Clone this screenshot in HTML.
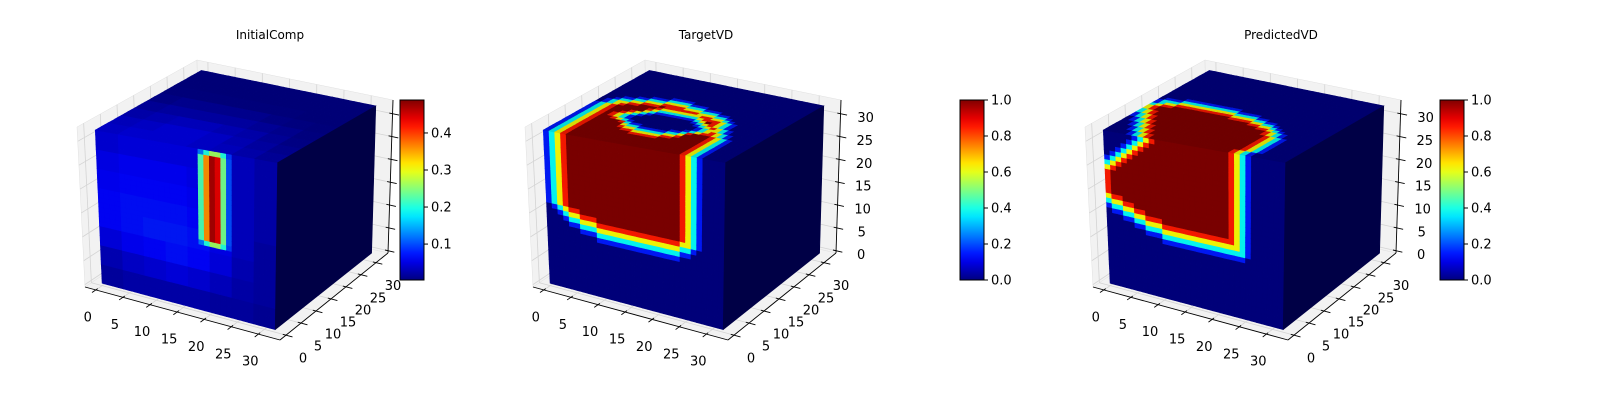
<!DOCTYPE html>
<html>
<head>
<meta charset="utf-8">
<style>
  html,body{margin:0;padding:0;background:#fff;}
  svg{display:block;font-family:"DejaVu Sans","Liberation Sans",sans-serif;}
</style>
</head>
<body>
<svg id="chart" width="1600" height="400" viewBox="0 0 1600 400" xmlns="http://www.w3.org/2000/svg"></svg>
<script>
// ---------- data ----------
const panelTitles = ["InitialComp", "TargetVD", "PredictedVD"];
const axisTicks = [0, 5, 10, 15, 20, 25, 30];
const cbTicksP1 = [0.1, 0.2, 0.3, 0.4];
const cbLabelsP1 = ["0.1", "0.2", "0.3", "0.4"];
const cbTicksP23 = [0.0, 0.2, 0.4, 0.6, 0.8, 1.0];
const cbLabelsP23 = ["0.0", "0.2", "0.4", "0.6", "0.8", "1.0"];
const cbRangeP1 = [0.003, 0.489];
const cbRangeP23 = [0.0, 1.0];
const rimLevels = [0.15, 0.38, 0.62, 0.85, 1.0];

// InitialComp: coarse glow (8x8 blocks of 4x4 voxels), front rows top->bottom
const p1FrontGlow = [
  [.045,.05,.05,.05,.05,.045,.035,.025],
  [.055,.06,.06,.06,.055,.05,.035,.025],
  [.06,.065,.065,.065,.06,.05,.035,.025],
  [.065,.07,.07,.07,.065,.055,.035,.025],
  [.065,.07,.075,.075,.07,.055,.035,.02],
  [.05,.06,.065,.07,.065,.05,.03,.02],
  [.03,.04,.045,.05,.045,.035,.025,.02],
  [.02,.025,.025,.025,.025,.02,.02,.015]
];
// top face glow rows front->back
const p1TopGlow = [
  [.05,.055,.055,.055,.05,.045,.035,.025],
  [.045,.05,.055,.055,.05,.04,.03,.02],
  [.035,.04,.045,.045,.04,.035,.025,.015],
  [.025,.03,.03,.03,.03,.025,.02,.012],
  [.015,.02,.02,.02,.02,.015,.012,.01],
  [.01,.01,.01,.01,.01,.01,.008,.008],
  [.008,.008,.008,.008,.008,.008,.008,.008],
  [.008,.008,.008,.008,.008,.008,.008,.008]
];
const p1BarX = [18, 19, 20, 21, 22, 23];
const p1BarProfile = [0.22, 0.36, 0.47, 0.44, 0.24, 0.10];
const p1BarEdgeProfile = [0.12, 0.20, 0.26, 0.26, 0.20, 0.09];
const p1BarZ = [13, 31];

// TargetVD: front face rows (z=0..31) extents of nonzero region
const p2FrontRows = [null,null,null,null,null,null,null,null,null,null,null,
  [9,23],[6,25],[4,26],[3,27],[2,27],[1,27],
  [0,27],[0,27],[0,27],[0,27],[0,27],[0,27],[0,27],[0,27],[0,27],[0,27],[0,27],[0,27],[0,27],[0,27],[0,27]];
// TargetVD: top face rows (y=0 front .. 31 back)
const p2TopRows = [[0,27],[0,27],[0,27],[0,27],[0,27],[0,27],[0,27],[0,27],[0,27],[0,27],
  [0,26],[0,26],[0,25],[0,25],[0,24],[0,24],[1,24],[1,23],[2,22],[3,21],[5,19],[7,16],[10,13],
  null,null,null,null,null,null,null,null,null];
const p2TopHole = [null,null,null,null,null,null,null,null,null,
  [12,16],[10,18],[9,19],[9,19],[10,18],[11,17],
  null,null,null,null,null,null,null,null,null,null,null,null,null,null,null,null,null];

// PredictedVD
const p3FrontRows = [null,null,null,null,null,null,null,null,null,null,null,
  [10,24],[7,25],[5,25],[3,25],[1,25],[0,25],[-1,25],[-2,25],
  [-3,25],[-3,25],[-3,25],[-3,25],[-3,25],[-3,25],
  [-1,25],[0,25],[1,25],[2,25],[3,25],[4,25],[5,25]];
const p3TopRows = [[4,25],[4,25],[3,26],[3,26],[2,26],[2,26],[1,26],[1,26],[0,26],[0,26],
  [-1,25],[-1,25],[-2,24],[-2,23],[-1,22],[0,21],[0,19],[1,17],[4,13],
  null,null,null,null,null,null,null,null,null,null,null,null,null];

// ---------- layout ----------
const NS = "http://www.w3.org/2000/svg";
const svg = document.getElementById("chart");
const BOX = {A:[85,287],B:[280,340],C:[388,253],G:[200,210],F:[77,127],H:[283,163],D:[393,100],E:[197,60]};
const XR = [-2, 34], YR = [-2, 34], ZR = [-0.5, 33];
const panelDX = [0, 448, 1008];
const cbX = [400, 960, 1440];
const cbTop = 100, cbBot = 280, cbW = 24;
const titleX = [270, 706, 1281];

function mk(tag, parent) { const e = document.createElementNS(NS, tag); parent.appendChild(e); return e; }
function bil(p, q, r, s, u, v) {
  return [(1-u)*(1-v)*p[0] + u*(1-v)*q[0] + u*v*r[0] + (1-u)*v*s[0],
          (1-u)*(1-v)*p[1] + u*(1-v)*q[1] + u*v*r[1] + (1-u)*v*s[1]];
}
function proj(dx, x, y, z) {
  const u = (x - XR[0]) / (XR[1] - XR[0]);
  const v = (y - YR[0]) / (YR[1] - YR[0]);
  const w = (z - ZR[0]) / (ZR[1] - ZR[0]);
  const b = bil(BOX.A, BOX.B, BOX.C, BOX.G, u, v);
  const t = bil(BOX.F, BOX.H, BOX.D, BOX.E, u, v);
  return [dx + b[0] + (t[0]-b[0])*w, b[1] + (t[1]-b[1])*w];
}
function clamp(a) { return Math.max(0, Math.min(1, a)); }
function jet(v) {
  return [clamp(1.5 - Math.abs(4*v - 3)), clamp(1.5 - Math.abs(4*v - 2)), clamp(1.5 - Math.abs(4*v - 1))];
}
function rgb(c, f) {
  return "rgb(" + Math.round(c[0]*255*f) + "," + Math.round(c[1]*255*f) + "," + Math.round(c[2]*255*f) + ")";
}
function contains(rows, hole, i, k) {
  const r = rows[k];
  if (!r) return false;
  if (i < r[0] || i > r[1]) return false;
  const h = hole && hole[k];
  if (h && i >= h[0] && i <= h[1]) return false;
  return true;
}
function depth(rows, hole, i, k, openLow, openHigh) {
  if (!contains(rows, hole, i, k)) return -1;
  const r = rows[k];
  let dh = Math.min(i - r[0], r[1] - i);
  const h = hole && hole[k];
  if (h) { if (i < h[0]) dh = Math.min(dh, h[0]-1-i); else dh = Math.min(dh, i-h[1]-1); }
  let down = 0;
  for (let kk = k-1; ; kk--) {
    if (kk < 0) { if (openLow) down = 99; break; }
    if (!contains(rows, hole, i, kk)) break;
    down++;
  }
  let up = 0;
  for (let kk = k+1; ; kk++) {
    if (kk > 31) { if (openHigh) up = 99; break; }
    if (!contains(rows, hole, i, kk)) break;
    up++;
  }
  return Math.min(dh, down, up);
}
function rimValue(rows, hole, i, k, openLow, openHigh) {
  const d = depth(rows, hole, i, k, openLow, openHigh);
  if (d < 0) return 0;
  return rimLevels[Math.min(d, 4)];
}
function p1Front(i, k) {
  const bi = p1BarX.indexOf(i);
  if (bi >= 0 && k >= p1BarZ[0] && k <= p1BarZ[1]) {
    if (k === p1BarZ[0] || k === p1BarZ[1]) return p1BarEdgeProfile[bi];
    return p1BarProfile[bi];
  }
  return p1FrontGlow[7 - Math.floor(k/4)][Math.floor(i/4)];
}
function p1Top(i, j) { return p1TopGlow[Math.floor(j/4)][Math.floor(i/4)]; }

const faceFns = [
  { front: p1Front, top: p1Top },
  { front: (i,k) => rimValue(p2FrontRows, null, i, k, false, true),
    top: (i,j) => rimValue(p2TopRows, p2TopHole, i, j, true, false) },
  { front: (i,k) => rimValue(p3FrontRows, null, i, k, false, true),
    top: (i,j) => rimValue(p3TopRows, null, i, j, true, false) }
];
const ranges = [cbRangeP1, cbRangeP23, cbRangeP23];
const cbTickSets = [cbTicksP1, cbTicksP23, cbTicksP23];
const cbLabelSets = [cbLabelsP1, cbLabelsP23, cbLabelsP23];

function pts(arr) { return arr.map(p => p[0].toFixed(1) + "," + p[1].toFixed(1)).join(" "); }

const defs = mk("defs", svg);
const grad = mk("linearGradient", defs);
grad.setAttribute("id", "jetgrad");
grad.setAttribute("x1", "0"); grad.setAttribute("y1", "1"); grad.setAttribute("x2", "0"); grad.setAttribute("y2", "0");
for (let s = 0; s <= 20; s++) {
  const st = mk("stop", grad);
  st.setAttribute("offset", (s/20).toFixed(2));
  st.setAttribute("stop-color", rgb(jet(s/20), 1));
}

for (let p = 0; p < 3; p++) {
  const dx = panelDX[p];
  const g = mk("g", svg);
  
  

  const tt = mk("text", g);
  
  
  tt.setAttribute("x", titleX[p]); tt.setAttribute("y", 39);
  tt.setAttribute("text-anchor", "middle"); tt.setAttribute("font-size", "12");
  tt.textContent = panelTitles[p];

  const panes = [
    [[XR[0],YR[0],ZR[0]],[XR[0],YR[1],ZR[0]],[XR[0],YR[1],ZR[1]],[XR[0],YR[0],ZR[1]]],
    [[XR[0],YR[1],ZR[0]],[XR[1],YR[1],ZR[0]],[XR[1],YR[1],ZR[1]],[XR[0],YR[1],ZR[1]]],
    [[XR[0],YR[0],ZR[0]],[XR[1],YR[0],ZR[0]],[XR[1],YR[1],ZR[0]],[XR[0],YR[1],ZR[0]]]
  ];
  const paneNames = ["left-pane", "back-pane", "floor-pane"];
  for (let q = 0; q < 3; q++) {
    const pg = mk("polygon", g);
    
    
    pg.setAttribute("points", pts(panes[q].map(c => proj(dx, c[0], c[1], c[2]))));
    pg.setAttribute("fill", "#f2f2f2");
    pg.setAttribute("stroke", "#e0e0e0");
    pg.setAttribute("stroke-width", "0.5");
  }
  function gl(a, b, name) {
    const l = mk("line", g);
    
    
    const P = proj(dx, a[0], a[1], a[2]), Q = proj(dx, b[0], b[1], b[2]);
    l.setAttribute("x1", P[0]); l.setAttribute("y1", P[1]);
    l.setAttribute("x2", Q[0]); l.setAttribute("y2", Q[1]);
    l.setAttribute("stroke", "#d4d4d4"); l.setAttribute("stroke-width", "0.8");
  }
  axisTicks.forEach(t => {
    gl([XR[0], t, ZR[0]], [XR[0], t, ZR[1]], "grid-line");
    gl([XR[0], YR[0], t], [XR[0], YR[1], t], "grid-line");
    gl([t, YR[1], ZR[0]], [t, YR[1], ZR[1]], "grid-line");
    gl([XR[0], YR[1], t], [XR[1], YR[1], t], "grid-line");
    gl([t, YR[0], ZR[0]], [t, YR[1], ZR[0]], "grid-line");
    gl([XR[0], t, ZR[0]], [XR[1], t, ZR[0]], "grid-line");
  });
  function al(a, b, name) {
    const l = mk("line", g);
    
    
    const P = proj(dx, a[0], a[1], a[2]), Q = proj(dx, b[0], b[1], b[2]);
    l.setAttribute("x1", P[0]); l.setAttribute("y1", P[1]);
    l.setAttribute("x2", Q[0]); l.setAttribute("y2", Q[1]);
    l.setAttribute("stroke", "#000"); l.setAttribute("stroke-width", "0.9");
  }
  function lab(pt, ox, oy, s, name) {
    const t = mk("text", g);
    
    
    t.setAttribute("x", (pt[0] + ox).toFixed(1)); t.setAttribute("y", (pt[1] + oy + 4.5).toFixed(1));
    t.setAttribute("text-anchor", "middle"); t.setAttribute("font-size", "13");
    t.textContent = s;
  }
  al([XR[0], YR[0], ZR[0]], [XR[1], YR[0], ZR[0]], "x-axis-line");
  al([XR[1], YR[0], ZR[0]], [XR[1], YR[1], ZR[0]], "y-axis-line");
  al([XR[1], YR[1], ZR[0]], [XR[1], YR[1], ZR[1]], "z-axis-line");
  axisTicks.forEach(t => {
    al([t, YR[0]+0.6, ZR[0]], [t, YR[0]-1.2, ZR[0]], "x-tick");
    lab(proj(dx, t, YR[0], ZR[0]), -8, 27, String(t), "x-tick-label");
    al([XR[1]-0.6, t, ZR[0]], [XR[1]+1.2, t, ZR[0]], "y-tick");
    lab(proj(dx, XR[1], t, ZR[0]), 17, 23, String(t), "y-tick-label");
    al([XR[1]-0.6, YR[1], t], [XR[1]+1.2, YR[1], t], "z-tick");
    if (p > 0) lab(proj(dx, XR[1], YR[1], t), 25, 4, String(t), "z-tick-label");
  });

  const rng = ranges[p];
  const norm = v => clamp((v - rng[0]) / (rng[1] - rng[0]));
  const cube = mk("g", g);
  
  
  for (let i = 0; i < 32; i++) {
    for (let k = 0; k < 32; k++) {
      const c = rgb(jet(norm(faceFns[p].front(i, k))), 0.95);
      const pg = mk("polygon", cube);
      
      
      pg.setAttribute("points", pts([proj(dx,i,0,k), proj(dx,i+1,0,k), proj(dx,i+1,0,k+1), proj(dx,i,0,k+1)]));
      pg.setAttribute("fill", c); pg.setAttribute("stroke", c); pg.setAttribute("stroke-width", "0.6");
    }
  }
  for (let i = 0; i < 32; i++) {
    for (let j = 0; j < 32; j++) {
      const c = rgb(jet(norm(faceFns[p].top(i, j))), 0.86);
      const pg = mk("polygon", cube);
      
      
      pg.setAttribute("points", pts([proj(dx,i,j,32), proj(dx,i+1,j,32), proj(dx,i+1,j+1,32), proj(dx,i,j+1,32)]));
      pg.setAttribute("fill", c); pg.setAttribute("stroke", c); pg.setAttribute("stroke-width", "0.6");
    }
  }
  {
    const c = rgb(jet(0), 0.55);
    const pg = mk("polygon", cube);
    
    
    pg.setAttribute("points", pts([proj(dx,32,0,0), proj(dx,32,32,0), proj(dx,32,32,32), proj(dx,32,0,32)]));
    pg.setAttribute("fill", c); pg.setAttribute("stroke", c); pg.setAttribute("stroke-width", "0.6");
  }

  const cx = cbX[p];
  const cb = mk("rect", g);
  
  
  cb.setAttribute("x", cx); cb.setAttribute("y", cbTop);
  cb.setAttribute("width", cbW); cb.setAttribute("height", cbBot - cbTop);
  cb.setAttribute("fill", "url(#jetgrad)"); cb.setAttribute("stroke", "#000"); cb.setAttribute("stroke-width", "1");
  cbTickSets[p].forEach((v, idx) => {
    const y = cbBot - (v - rng[0]) / (rng[1] - rng[0]) * (cbBot - cbTop);
    const tk = mk("line", g);
    
    
    tk.setAttribute("x1", cx + cbW); tk.setAttribute("x2", cx + cbW + 4);
    tk.setAttribute("y1", y); tk.setAttribute("y2", y);
    tk.setAttribute("stroke", "#000"); tk.setAttribute("stroke-width", "1");
    const tx = mk("text", g);
    
    
    tx.setAttribute("x", cx + cbW + 7); tx.setAttribute("y", (y + 4.5).toFixed(1));
    tx.setAttribute("font-size", "13");
    tx.textContent = cbLabelSets[p][idx];
  });
}
</script>
</body>
</html>
